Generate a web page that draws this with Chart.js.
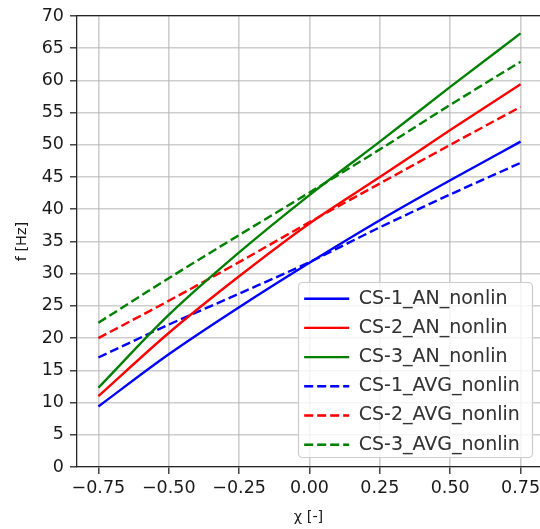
<!DOCTYPE html>
<html>
<head>
<meta charset="utf-8">
<script src="https://cdn.jsdelivr.net/npm/chart.js@4.4.1/dist/chart.umd.min.js"></script>
<style>
  body { margin: 0; background: #fff; overflow: hidden; }
</style>
</head>
<body>
<canvas id="chart" width="540" height="529"></canvas>
<script>
// chi values where the frequencies were read
var chi = [-0.75, -0.5, -0.25, 0, 0.25, 0.5, 0.75];

var cs1An  = [9.4, 17.5, 24.8, 31.7, 38.3, 44.5, 50.5];
var cs2An  = [11.0, 20.8, 29.6, 37.8, 45.0, 52.3, 59.4];
var cs3An  = [12.3, 23.6, 33.3, 42.2, 50.5, 59.0, 67.3];
var cs1Avg = [17.0, 22.1, 26.9, 31.8, 37.2, 42.3, 47.2];
var cs2Avg = [20.0, 25.8, 31.8, 38.0, 44.0, 50.0, 55.9];
var cs3Avg = [22.4, 29.3, 36.0, 42.6, 49.3, 56.2, 62.9];

var xTicks = [-0.75, -0.5, -0.25, 0, 0.25, 0.5, 0.75];

var font = "'DejaVu Sans', sans-serif";
var gridColor = "rgba(180,180,180,0.65)";
var spineColor = "#262626";

function pts(ys) {
    var out = [];
    for (let i = 0; i < chi.length; i++) {
        out.push({x: chi[i], y: ys[i]});
    }
    return out;
}

function series(label, ys, color, dashed) {
    return {
        label: label,
        data: pts(ys),
        borderColor: color,
        backgroundColor: color,
        borderWidth: 2.4,
        borderDash: dashed ? [9, 4] : [],
        pointRadius: 0,
        pointStyle: 'line',
        cubicInterpolationMode: 'monotone',
        fill: false
    };
}

// legend sits inside the plot, lower right, with a matplotlib like frame
var legendFrame = {
    id: 'legendFrame',
    afterLayout(chart) {
        var lg = chart.legend;
        lg.left = 294; lg.right = 532;
        lg.top = 279; lg.bottom = 529;
    },
    afterDraw(chart) {
        var ctx = chart.ctx;
        ctx.save();
        ctx.beginPath();
        ctx.roundRect(298.5, 282.5, 234, 175, 4);
        ctx.fillStyle = "rgba(255,255,255,0.8)";
        ctx.fill();
        ctx.strokeStyle = "#cccccc";
        ctx.lineWidth = 1.2;
        ctx.stroke();
        ctx.restore();
        chart.legend.draw();
    }
};

function fixSize(w, h) {
    return function (scale) {
        if (w !== null) scale.width = w;
        if (h !== null) scale.height = h;
        scale.paddingLeft = 0; scale.paddingRight = 0;
        scale.paddingTop = 0; scale.paddingBottom = 0;
    };
}

function fmtChi(v) {
    var s = Math.abs(v).toFixed(2);
    return (v < 0 ? "\u2212" : "") + s;
}

const ctx = document.getElementById("chart").getContext("2d");
new Chart(ctx, {
    type: 'line',
    data: {
        datasets: [
            series("CS-1_AN_nonlin", cs1An, "#0000ff", false),
            series("CS-2_AN_nonlin", cs2An, "#ff0000", false),
            series("CS-3_AN_nonlin", cs3An, "#008000", false),
            series("CS-1_AVG_nonlin", cs1Avg, "#0000ff", true),
            series("CS-2_AVG_nonlin", cs2Avg, "#ff0000", true),
            series("CS-3_AVG_nonlin", cs3Avg, "#008000", true)
        ]
    },
    options: {
        responsive: false,
        animation: false,
        layout: { padding: 0 },
        scales: {
            x: {
                type: 'linear',
                position: 'bottom',
                min: -0.826,
                max: 0.819,
                afterBuildTicks: function (scale) {
                    scale.ticks = xTicks.map(function (v) { return {value: v}; });
                },
                afterFit: fixSize(null, 62),
                ticks: {
                    callback: function (v) { return fmtChi(v); },
                    color: "#1a1a1a",
                    font: { family: font, size: 17.5 },
                    padding: 4,
                    maxRotation: 0,
                    autoSkip: false
                },
                grid: { color: gridColor, tickColor: spineColor, lineWidth: 1.6, tickWidth: 1.3, tickLength: 7 },
                border: { display: true, color: spineColor, width: 1.3 },
                title: {
                    display: true,
                    text: "\u03c7 [-]",
                    color: "#1a1a1a",
                    font: { family: font, size: 14.5 },
                    padding: { top: 0, bottom: 3.3 }
                }
            },
            x2: {
                type: 'linear',
                position: 'top',
                min: -0.826,
                max: 0.819,
                afterFit: fixSize(null, 16),
                ticks: { display: false },
                grid: { display: false },
                border: { display: true, color: spineColor, width: 1.3 }
            },
            y: {
                min: 0,
                max: 70,
                afterFit: fixSize(77, null),
                ticks: {
                    stepSize: 5,
                    color: "#1a1a1a",
                    font: { family: font, size: 17.5 },
                    padding: 6
                },
                grid: { color: gridColor, tickColor: spineColor, lineWidth: 1.6, tickWidth: 1.3, tickLength: 7 },
                border: { display: true, color: spineColor, width: 1.3 },
                title: {
                    display: true,
                    text: "f [Hz]",
                    color: "#1a1a1a",
                    font: { family: font, size: 14.5 },
                    padding: { top: 13.3, bottom: 0 }
                }
            }
        },
        plugins: {
            legend: {
                position: 'chartArea',
                align: 'start',
                labels: {
                    usePointStyle: true,
                    pointStyleWidth: 45,
                    padding: 10.2,
                    color: "#333333",
                    font: { family: font, size: 19 },
                    // point styles drop the dataset dash, so carry it over here
                    generateLabels: function (chart) {
                        var items = Chart.defaults.plugins.legend.labels.generateLabels(chart);
                        items.forEach(function (it) {
                            var ds = chart.data.datasets[it.datasetIndex];
                            it.lineDash = ds.borderDash;
                            it.lineWidth = ds.borderWidth;
                            it.strokeStyle = ds.borderColor;
                        });
                        return items;
                    }
                }
            },
            tooltip: { enabled: false }
        }
    },
    plugins: [legendFrame]
});
</script>
</body>
</html>
